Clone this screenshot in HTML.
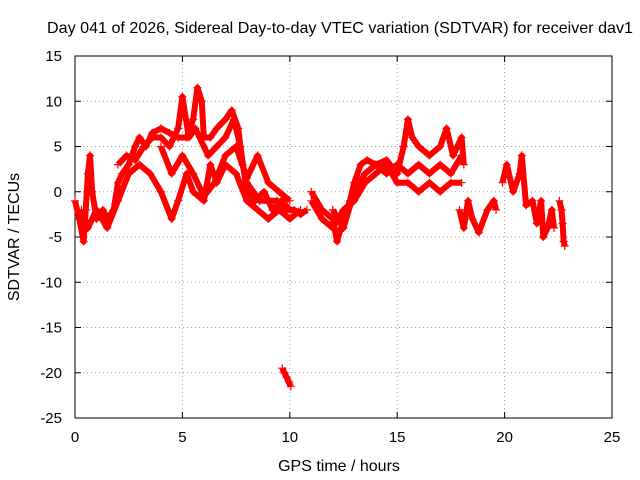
<!DOCTYPE html>
<html><head><meta charset="utf-8"><style>
body{margin:0;background:#fff;}
svg{display:block;font-family:"Liberation Sans",sans-serif;}
</style></head><body>
<svg id="chart" width="640" height="480" viewBox="0 0 640 480" xmlns="http://www.w3.org/2000/svg">
<rect width="640" height="480" fill="#fff"/>
<text x="340" y="33" font-size="16" text-anchor="middle" textLength="586" lengthAdjust="spacingAndGlyphs">Day 041 of 2026, Sidereal Day-to-day VTEC variation (SDTVAR) for receiver dav1</text>
<text x="19" y="237" font-size="16" text-anchor="middle" transform="rotate(-90 19 237)">SDTVAR / TECUs</text>
<text x="339" y="471" font-size="16" text-anchor="middle">GPS time / hours</text>
<g id="axes"></g>
<g id="marks"></g>
</svg>
<script>
const xTicks=[0,5,10,15,20,25];
const yTicks=[15,10,5,0,-5,-10,-15,-20,-25];
const trackA_t=[0.0,0.2,0.4,0.5,0.6,0.7,0.8,1.0,1.3,1.5,1.8,2.0,2.2,2.5,2.8,3.0,3.3,3.6,4.0,4.4,4.8,5.2,5.5,5.7,5.9,6.0,6.3,6.6,7.0,7.3,7.6,7.8,8.0,8.3,8.6,9.0,9.4,9.8,10.2,10.5,10.8];
const trackA_v=[-1,-3,-5.5,-2,2,4,0,-3,-2,-3,-2,1,2,3,5,6,5,6.5,7,6.5,6,6,8,11.5,10,6,6,7,8,9,7,3,1,0,-1,-1,-1,-2,-2,-2.5,-2];
const trackB_t=[0.3,0.6,1.0,1.5,2.0,2.5,3.0,3.5,4.0,4.5,4.8,5.2,5.5,6.0,6.3,6.6,7.0,7.5,8.0,8.5,9.0,9.5,10.0,10.5];
const trackB_v=[-2,-4,-2,-4,-1,2,3,2,0,-3,-1,2,0,-1,3,1,3,2,-1,-2,-3,-2,-3,-2];
const trackC_t=[4.0,4.5,5.0,5.5,6.0,6.5,7.0,7.5,8.0,8.5,9.0,9.5,10.0];
const trackC_v=[5,2,4,2,-0.5,1,4,5,1.5,4,1,0,-1];
const trackJ_t=[2.0,2.4,2.8,3.2,3.6,4.0,4.4,4.8,5.0,5.3,5.6,6.2,6.6,7.0,7.4,7.7,8.0,8.4,8.8,9.2,9.6,10.0];
const trackJ_v=[3,4,3.5,5,6,6,5,7,10.5,6,7,4,5,6,8,5,0,-1,0,-2,-1,-2];
const trackI_t=[9.65,9.75,9.85,9.95,10.05];
const trackI_v=[-19.5,-20,-20.5,-21,-21.5];
const trackD_t=[11.0,11.5,12.0,12.2,12.5,12.8,13.0,13.3,13.6,14.0,14.5,15.0,15.3,15.5,15.7,16.0,16.5,17.0,17.3,17.6,18.0,18.1];
const trackD_v=[0,-2,-3,-5.5,-3,-1,1,3,3.5,3,3.5,2,5,8,6,5,4,5,7,4,6,3];
const trackE_t=[11.0,11.5,12.0,12.5,13.0,13.5,14.0,14.5,15.0,15.5,16.0,16.5,17.0,17.5,18.0];
const trackE_v=[-1,-3,-4,-2,-1,1,2,3,1,1,0,1,0,1,1];
const trackK_t=[12.0,12.5,13.0,13.5,14.0,14.5,15.0,15.5,16.0,16.5,17.0,17.5,18.0];
const trackK_v=[-2,-4,0,2,3,2,3,2,3,2,3,2,4];
const trackF_t=[17.9,18.1,18.3,18.5,18.8,19.2,19.5,19.6];
const trackF_v=[-2,-4,-1,-3,-4.5,-2,-1,-2];
const trackG_t=[19.9,20.1,20.4,20.7,20.8,21.0,21.3,21.5,21.7,21.8,22.0,22.2,22.3];
const trackG_v=[1,3,0,2,4,-1.5,-1,-3.5,-1,-5,-4,-2,-4];
const trackH_t=[22.55,22.65,22.7,22.75,22.8];
const trackH_v=[-1,-2,-3.5,-5.5,-6];

const L=75,R=612,T=56,B=418;
function X(t){return L+(t-0)/(25-0)*(R-L);}
function Y(v){return B-(v+25)/(40)*(B-T);}
const NS="http://www.w3.org/2000/svg";
const axes=document.getElementById('axes');
const marks=document.getElementById('marks');
function mk(tag,attrs,parent){const e=document.createElementNS(NS,tag);for(const k in attrs)e.setAttribute(k,attrs[k]);parent.appendChild(e);return e;}
xTicks.forEach(t=>{
  const x=X(t);
  if(t>0&&t<25){const g=mk('line',{x1:x,y1:T,x2:x,y2:B,stroke:'#a0a0a0','stroke-dasharray':'1,3'},axes);
  
  }
  mk('line',{x1:x,y1:B,x2:x,y2:B-6,stroke:'#000'},axes);
  mk('line',{x1:x,y1:T,x2:x,y2:T+6,stroke:'#000'},axes);
  const lb=mk('text',{x:x,y:B+24,'font-size':15,'text-anchor':'middle'},axes);
  lb.textContent=t;
  
  
});
yTicks.forEach(v=>{
  const y=Y(v);
  if(v>-25&&v<15){const g=mk('line',{x1:L,y1:y,x2:R,y2:y,stroke:'#a0a0a0','stroke-dasharray':'1,3'},axes);
  
  }
  mk('line',{x1:L,y1:y,x2:L+6,y2:y,stroke:'#000'},axes);
  mk('line',{x1:R,y1:y,x2:R-6,y2:y,stroke:'#000'},axes);
  const lb=mk('text',{x:L-13,y:y+5,'font-size':15,'text-anchor':'end'},axes);
  lb.textContent=v;
  
  
});
const frame=mk('rect',{x:L,y:T,width:R-L,height:B-T,fill:'none',stroke:'#000'},axes);


const tracks=[[trackA_t,trackA_v],[trackB_t,trackB_v],[trackC_t,trackC_v],[trackJ_t,trackJ_v],[trackI_t,trackI_v],[trackD_t,trackD_v],[trackE_t,trackE_v],[trackK_t,trackK_v],[trackF_t,trackF_v],[trackG_t,trackG_v],[trackH_t,trackH_v]];
tracks.forEach(([ts,vs])=>{
  const pts=ts.map((t,i)=>X(t)+','+Y(vs[i])).join(' ');
  const pl=mk('polyline',{points:pts,fill:'none',stroke:'#ff0000','stroke-width':6,'stroke-linejoin':'round'},marks);
  
  
  ts.forEach((t,i)=>{
    const x=X(t),y=Y(vs[i]);
    const p=mk('path',{d:`M${x-4},${y}H${x+4}M${x},${y-4}V${y+4}`,stroke:'#ff0000','stroke-width':1.2},marks);
    
    
  });
});
</script>
</body></html>
